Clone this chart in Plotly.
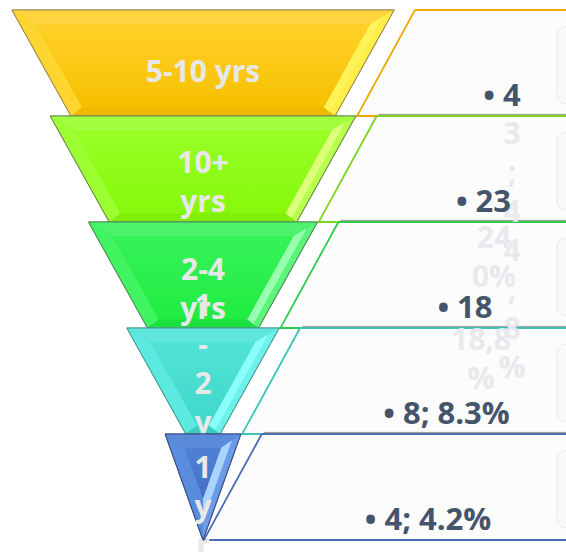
import math
import plotly.graph_objects as go

# ---- data -------------------------------------------------------------
tiers = ["5-10 yrs", "10+ yrs", "2-4 yrs", "1-2 yrs", "1 yr"]
counts = [4, 23, 18, 8, 4]
shares = [None, None, None, "8.3%", "4.2%"]

# overflowing remnants of the hidden percentage text
ghost_col_a = ["3", ";", "4", "4", ",", "8", "%"]
ghost_col_b = ["24", "0%"]
ghost_col_c = ["18,8", "%"]

# ---- layout constants ----------------------------------------------------
W, H = 566, 552
CX = 203            # funnel axis
TOP = 10            # top of first tier
ROW_H = 106         # tier height
HALF0 = 191         # half width of the top edge of tier 1
STEP = 38.3         # narrowing of each successive tier top (per side)
TAPER = 59          # narrowing within a tier (per side)
BEVEL = 14          # bevel depth

BOX_TL0, BOX_BL0 = 415, 357   # left corners of the first side panel
BOX_RIGHT = 620

FONT = "Open Sans"
LABEL_SIZE = 30
VALUE_SIZE = 31
label_wrap = [10, 4, 4, 1, 1]
label_shift = [11, 16, 17, 25, 22]

styles = [
    dict(face=("#FFD02A", "#F6C000"), top="#FFD440", left="#FFD630", right="#FFEE48",
         hi="#FFF35A", bottom="#F0B800", edge="#A08C50", box="#EBA900"),
    dict(face=("#98FF26", "#86F80A"), top="#A2FF40", left="#9CFF34", right="#B8FF50",
         hi="#DCFF7C", bottom="#80EE08", edge="#6E8E4A", box="#7ED321"),
    dict(face=("#36F258", "#20EC42"), top="#4CF26C", left="#40F462", right="#5CF47A",
         hi="#98FFB0", bottom="#1CE03E", edge="#4E8E5A", box="#2ECC4E"),
    dict(face=("#52E2D6", "#3ED8CA"), top="#60E6DA", left="#5CEAE0", right="#6CF2EA",
         hi="#8CFFFA", bottom="#38CEC0", edge="#4A9A94", box="#3CC4B8"),
    dict(face=("#5080D4", "#4470C4"), top="#5C8ADA", left="#5A8CDE", right="#6C9CE8",
         hi="#A8D4FF", bottom="#3E66B8", edge="#3A4E7E", box="#4A6CB4"),
]

fig = go.Figure()


def poly(pts, fill, line_color=None, line_width=0, gradient=None):
    xs = [p[0] for p in pts] + [pts[0][0]]
    ys = [p[1] for p in pts] + [pts[0][1]]
    kw = dict(x=xs, y=ys, mode="lines", fill="toself", hoverinfo="skip",
              showlegend=False,
              line=dict(color=line_color or fill, width=line_width))
    if gradient:
        # y axis is reversed: colorscale 0 sits at the bottom edge
        kw["fillgradient"] = dict(type="vertical",
                                  colorscale=[[0, gradient[1]], [1, gradient[0]]])
    else:
        kw["fillcolor"] = fill
    fig.add_trace(go.Scatter(**kw))


def text(x, y, s, size, color, pos="middle center"):
    fig.add_trace(go.Scatter(
        x=[x], y=[y], mode="text", text=[s], textposition=pos,
        textfont=dict(family=FONT, size=size, color=color, weight="bold"),
        hoverinfo="skip", showlegend=False, cliponaxis=False))


def wrap(label, width):
    lines, cur = [], ""
    for word in label.split():
        pieces = [word] if len(word) <= width else list(word)
        for p in pieces:
            if not cur:
                cur = p
            elif len(cur) + 1 + len(p) <= width:
                cur += " " + p
            else:
                lines.append(cur)
                cur = p
    if cur:
        lines.append(cur)
    return "<br>".join(lines)


def rounded_rect(x0, y0, x1, y1, r, n=8):
    pts = []
    corners = [(x1 - r, y0 + r, -90), (x1 - r, y1 - r, 0),
               (x0 + r, y1 - r, 90), (x0 + r, y0 + r, 180)]
    for cx, cy, a0 in corners:
        for k in range(n + 1):
            a = math.radians(a0 + 90 * k / n)
            pts.append((cx + r * math.cos(a), cy + r * math.sin(a)))
    return pts


def lerp(p, q, t):
    return (p[0] + (q[0] - p[0]) * t, p[1] + (q[1] - p[1]) * t)


n = len(tiers)

# ---- side panels -------------------------------------------------------
for i in range(n):
    yt = TOP + i * ROW_H
    yb = yt + ROW_H
    tl = BOX_TL0 - i * STEP
    bl = BOX_BL0 - i * STEP
    poly([(tl, yt), (BOX_RIGHT, yt), (BOX_RIGHT, yb), (bl, yb)],
         "#FCFCFC", styles[i]["box"], 1.8)
    if i > 0:
        fig.add_trace(go.Scatter(x=[tl + 2, BOX_RIGHT], y=[yt - 1.6, yt - 1.6],
                                 mode="lines", line=dict(color="#9A9A90", width=1),
                                 hoverinfo="skip", showlegend=False))
    poly(rounded_rect(557, yt + 16, 640, yt + 94, 9), "#F9F9F9", "#E8E8E8", 1)

# ---- ghost text over the panels ------------------------------------------
GHOST = "#E7E9EC"
text(512, 136 + 3 * 39, "<br>".join(ghost_col_a), LABEL_SIZE, GHOST)
text(494, 260, "<br>".join(ghost_col_b), LABEL_SIZE, GHOST)
text(481, 362, "<br>".join(ghost_col_c), LABEL_SIZE, GHOST)

# ---- value labels ------------------------------------------------------
for i in range(n):
    yt = TOP + i * ROW_H
    val = f"{counts[i]}; {shares[i]}" if shares[i] else f"{counts[i]}"
    text(502 - 18.5 * i, yt + 88, "• " + val, VALUE_SIZE, "#44546A")

# ---- funnel tiers ------------------------------------------------------
for i in range(n):
    st = styles[i]
    yt = TOP + i * ROW_H
    yb = yt + ROW_H
    wt = HALF0 - i * STEP
    wb = max(wt - TAPER, 0.0)
    s = (wt - wb) / ROW_H
    k = math.sqrt(1 + s * s)
    d = BEVEL

    def w_in(y):
        return wt - s * (y - yt) - d * k

    yti = yt + d
    ybi = yb - d * 0.6
    if w_in(ybi) <= 0:
        ybi = yt + (wt - d * k) / s
    wti, wbi = w_in(yti), max(w_in(ybi), 0.0)

    TL, TR = (CX - wt, yt), (CX + wt, yt)
    BR, BL = (CX + wb, yb), (CX - wb, yb)
    iTL, iTR = (CX - wti, yti), (CX + wti, yti)
    iBR, iBL = (CX + wbi, ybi), (CX - wbi, ybi)

    poly([TL, TR, BR, BL], st["bottom"], st["edge"], 1.2)
    poly([TL, TR, iTR, iTL], st["top"])
    poly([TL, iTL, iBL, BL], st["left"])
    poly([TR, BR, iBR, iTR], st["right"])
    # bright highlight along the inner half of the right bevel
    mT, mB = lerp(TR, iTR, 0.45), lerp(BR, iBR, 0.45)
    poly([mT, mB, iBR, iTR], st["hi"])
    if wb > 0:
        poly([BL, iBL, iBR, BR], st["bottom"])
    poly([iTL, iTR, iBR, iBL], st["face"][0], gradient=st["face"])
    # outline on top
    fig.add_trace(go.Scatter(x=[TL[0], TR[0], BR[0], BL[0], TL[0]],
                             y=[TL[1], TR[1], BR[1], BL[1], TL[1]],
                             mode="lines", line=dict(color=st["edge"], width=1),
                             hoverinfo="skip", showlegend=False))
    text(CX, (yt + yb) / 2 + label_shift[i], wrap(tiers[i], label_wrap[i]),
         LABEL_SIZE, "#E8E8E8")

fig.update_layout(
    width=W, height=H, margin=dict(l=0, r=0, t=0, b=0),
    paper_bgcolor="white", plot_bgcolor="white", showlegend=False,
    xaxis=dict(range=[0, W], visible=False, fixedrange=True),
    yaxis=dict(range=[H, 0], visible=False, fixedrange=True),
)

fig.write_html("out.html")
